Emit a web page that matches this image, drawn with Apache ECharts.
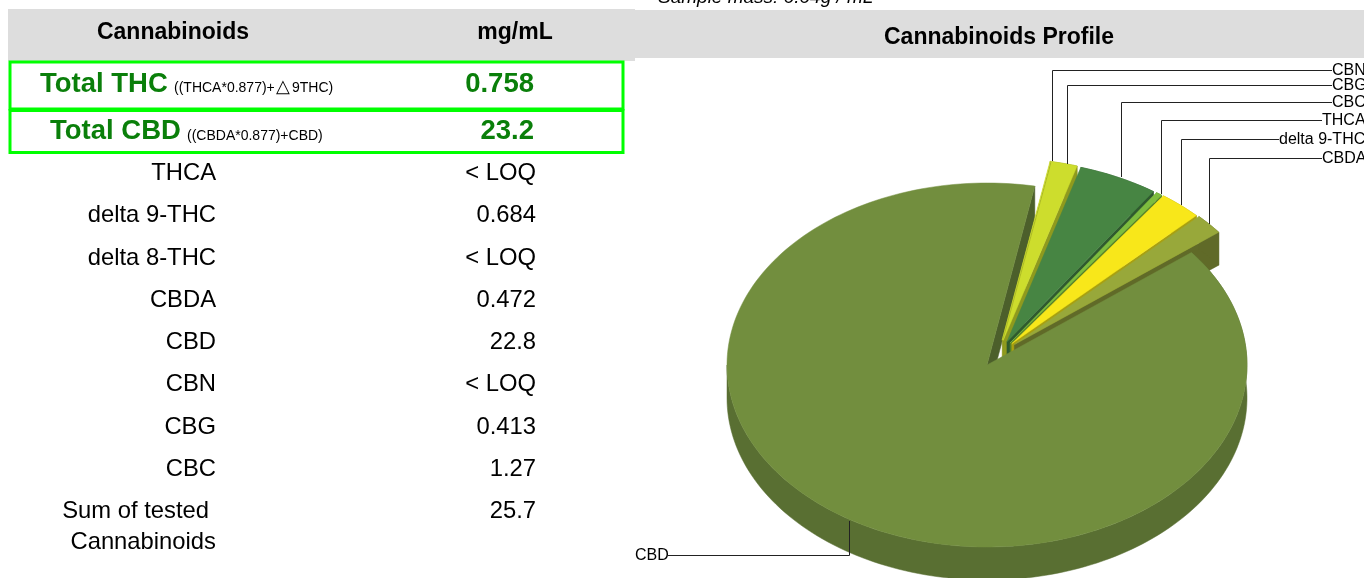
<!DOCTYPE html>
<html><head><meta charset="utf-8">
<style>html,body{margin:0;padding:0;background:#fff;overflow:hidden}#c{width:1364px;height:578px}</style>
<script src="https://cdn.jsdelivr.net/npm/echarts@6/dist/echarts.min.js"></script>
</head><body><div id="c"></div>
<script>
// ---- data ----
const rowNames = ['THCA','delta 9-THC','delta 8-THC','CBDA','CBD','CBN','CBG','CBC'];
const rowValues = ['< LOQ','0.684','< LOQ','0.472','22.8','< LOQ','0.413','1.27'];
const sumLabel = ['Sum of tested','Cannabinoids'];
const sumValue = '25.7';
const totalThc = '0.758';
const totalCbd = '23.2';
// pie slices, clockwise from the chart's first slice
const sliceNames = ['CBN','CBG','CBC','THCA','delta 9-THC','CBDA','CBD'];
const sliceValues = [0.01,0.413,1.27,0.1,0.684,0.472,22.8];
// ---- style ----
const sliceTop  = ['#cddd2d','#cddd2d','#478543','#7ebd3e','#f8e71a','#98a83a','#728e3e'];
const sliceSide = ['#8f9a1e','#8f9a1e','#2f5a2e','#55802a','#a8a010','#606a28','#596f32'];
const labelY    = [71,86,103,121,140,159,556];
const labelX    = [1332,1332,1332,1322,1279,1322,635];
const leaderNudge = [2,3,3,2,1,0,-3];
const cx=987, cy=365, rx=260, ry=182, depth=33, startDeg=10.6;
const FONT='"Liberation Sans",Arial,sans-serif';

const total = sliceValues.reduce((a,b)=>a+b,0);
const rad = d=>d*Math.PI/180;
const pt = (t,ox,oy,dz)=>[cx+ox+rx*Math.sin(rad(t)), cy+oy+(dz||0)-ry*Math.cos(rad(t))];
function explode(mid){ if(mid>90) return [0,0]; return [15+(mid-10)*0.32, -25+(mid-10)*0.12]; }
function arc(a,b,ox,oy,dz){const n=Math.max(2,Math.ceil(Math.abs(b-a)/1.5)),r=[];for(let i=0;i<=n;i++)r.push(pt(a+(b-a)*i/n,ox,oy,dz));return r;}
function poly(points,fill,z){return {type:'polygon',shape:{points},style:{fill,stroke:fill,lineWidth:0.5},z2:z};}

function sliceGeom(val,acc){
  const a=startDeg+acc/total*360, b=a+val/total*360, m=(a+b)/2;
  return {a,b,m,off:explode(m)};
}
function renderSlice(params,api){
  const i=params.dataIndex, val=api.value(1), acc=api.value(2);
  const g=sliceGeom(val,acc), [ox,oy]=g.off, kids=[];
  const ap=[cx+ox,cy+oy], apB=[cx+ox,cy+oy+depth];
  const base=(i+1)*10;
  if(i===6){
    // start edge wall of the large slice lies behind the exploded slices
    const e=g.b-360;
    const s=pt(e,0,0), sB=pt(e,0,0,depth);
    kids.push(poly([s,sB,apB,ap],'#4c5f2b',1));
    const from=Math.max(g.a,51.9), arcTop=arc(from,Math.min(g.b,270),0,0), arcBot=arc(from,Math.min(g.b,270),0,0,depth).reverse();
    kids.push(poly(arcTop.concat(arcBot),sliceSide[i],200));
  } else {
    const e=pt(g.b,ox,oy), eB=pt(g.b,ox,oy,depth);
    kids.push(poly([e,eB,apB,ap],sliceSide[i],base));
    kids.push(poly(arc(g.a,g.b,ox,oy).concat(arc(g.a,g.b,ox,oy,depth).reverse()),sliceSide[i],base+1));
  }
  kids.push(poly([ap].concat(arc(g.a,g.b,ox,oy)),sliceTop[i],i===6?201:base+2));
  // leader + label
  const rim=pt(g.m,ox,oy);
  const ly=labelY[i], lx=labelX[i];
  const lineEnd=i===6?lx+33:lx;
  const px=Math.round(rim[0])+leaderNudge[i]+.5, py=Math.round(ly)-.5;
  kids.push({type:'polyline',shape:{points:[[px,Math.round(rim[1])],[px,py],[lineEnd,py]]},style:{stroke:'#222',lineWidth:1,fill:null},z2:300});
  kids.push({type:'text',style:{text:sliceNames[i],x:lx,y:ly,font:'16px '+FONT,fill:'#000',align:'left',verticalAlign:'middle'},z2:301});
  return {type:'group',children:kids};
}

let acc=0;
const pieData=sliceNames.map((n,i)=>{const r=[n,sliceValues[i],acc];acc+=sliceValues[i];return r;});

// table text
const txt=(text,x,y,size,opts)=>({type:'text',z:5,style:{text,x,y,font:((opts&&opts.italic)?'italic ':'')+((opts&&opts.bold)?'bold ':'')+size+'px '+FONT,fill:(opts&&opts.fill)||'#000',align:(opts&&opts.align)||'right',verticalAlign:'middle'}});
const GREEN='#0a7f0a';
const rowY=[173,215,258,300,342,384,427,469];
const g=[
 {type:'rect',z:1,shape:{x:8,y:9,width:627,height:52},style:{fill:'#dddddd'}},
 {type:'rect',z:1,shape:{x:635,y:10,width:729,height:48},style:{fill:'#dddddd'}},
 txt('Cannabinoids',173,33,23,{bold:true,align:'center'}),
 txt('mg/mL',515,33,23,{bold:true,align:'center'}),
 txt('Cannabinoids Profile',999,38,23,{bold:true,align:'center'}),
 txt('Sample mass: 0.04g / mL',658,-2,19,{align:'left',italic:true}),
 {type:'rect',z:3,shape:{x:10,y:62,width:613,height:47},style:{fill:'#fff',stroke:'#00ff00',lineWidth:3}},
 {type:'rect',z:3,shape:{x:10,y:110.5,width:613,height:42},style:{fill:'#fff',stroke:'#00ff00',lineWidth:3}},
 txt('Total THC',40,84,27.5,{bold:true,align:'left',fill:GREEN}),
 txt('((THCA*0.877)+',174,88,14,{align:'left'}),
 txt('△',276,87,18,{align:'left'}),
 txt('9THC)',292,88,14,{align:'left'}),
 txt(totalThc,534,84,27.5,{bold:true,fill:GREEN}),
 txt('Total CBD',50,131,27.5,{bold:true,align:'left',fill:GREEN}),
 txt('((CBDA*0.877)+CBD)',187,136,14,{align:'left'}),
 txt(totalCbd,534,131,27.5,{bold:true,fill:GREEN}),
];
rowNames.forEach((n,i)=>{g.push(txt(n,216,rowY[i],23.8));g.push(txt(rowValues[i],536,rowY[i],23.8));});
g.push(txt(sumLabel[0],209,511,23.8),txt(sumLabel[1],216,542,23.8),txt(sumValue,536,511,23.8));

const chart=echarts.init(document.getElementById('c'),null,{renderer:'canvas'});
chart.setOption({
  animation:false,
  backgroundColor:'#fff',
  graphic:{elements:g},
  series:[{type:'custom',coordinateSystem:'none',silent:true,clip:false,z:2,
    encode:{value:1},data:pieData,renderItem:renderSlice}]
});
</script></body></html>
